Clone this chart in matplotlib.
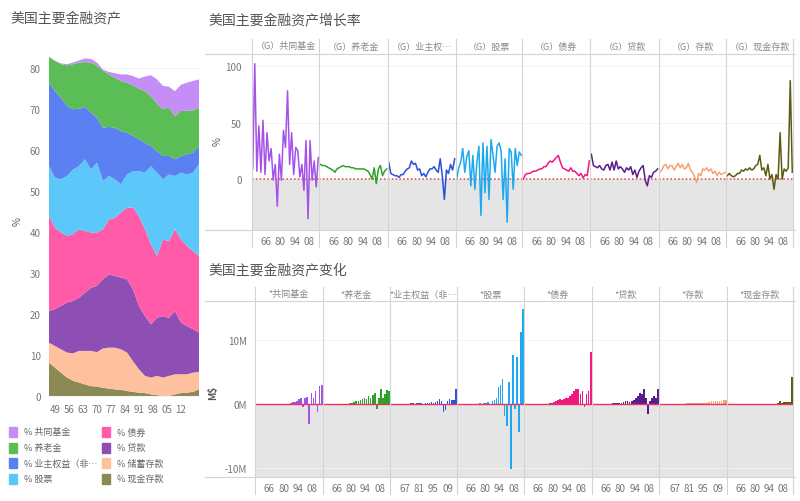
import numpy as np
import matplotlib.pyplot as plt
from matplotlib.lines import Line2D
from matplotlib.patches import Rectangle

plt.rcParams['font.family'] = ['Noto Sans CJK SC', 'DejaVu Sans']

W, H = 800, 502

# ---- left: share of financial assets (%) ----
share_years = [1946, 1949, 1952, 1955, 1958, 1961, 1964, 1967, 1970, 1973, 1976, 1979, 1982,
               1985, 1988, 1991, 1994, 1997, 2000, 2003, 2006, 2009, 2012, 2015, 2018, 2021]
cash = [8.1, 6.9, 5.7, 4.5, 3.7, 3.3, 2.8, 2.4, 2.3, 2.0, 1.8, 1.6, 1.5,
        1.2, 1.0, 0.8, 0.7, 0.4, 0.2, 0.0, 0.0, 0.4, 0.7, 0.8, 1.0, 1.6]
savings = [4.9, 5.3, 5.7, 6.1, 6.7, 7.7, 8.2, 8.6, 8.4, 9.6, 10.0, 10.2, 9.9,
           9.4, 7.5, 5.7, 4.2, 4.1, 4.7, 4.5, 4.9, 4.9, 4.6, 4.5, 4.7, 4.3]
loans = [7.7, 9.0, 10.6, 12.2, 12.8, 13.0, 14.2, 15.4, 16.2, 16.9, 17.9, 17.5, 17.5,
         17.9, 17.5, 15.5, 14.6, 13.0, 14.2, 15.0, 14.2, 15.4, 12.6, 11.8, 10.6, 9.6]
bonds = [23.2, 19.9, 17.9, 16.3, 16.3, 16.7, 15.1, 13.5, 13.0, 12.2, 13.4, 14.2, 15.9,
         17.5, 20.0, 21.9, 21.2, 19.5, 15.1, 18.7, 18.7, 20.0, 20.3, 19.5, 19.1, 18.7]
stocks = [12.2, 12.2, 13.0, 14.6, 15.8, 15.4, 17.5, 15.4, 17.1, 11.8, 10.6, 9.4, 6.9,
          8.1, 8.9, 11.0, 13.8, 19.1, 20.3, 14.7, 16.3, 13.0, 16.3, 17.5, 19.1, 22.4]
equity = [20.4, 21.1, 19.9, 17.1, 14.7, 14.0, 12.8, 13.9, 10.9, 13.0, 12.0, 12.6, 13.0,
          10.2, 8.6, 7.8, 7.3, 4.9, 5.3, 5.7, 4.5, 4.1, 4.1, 4.9, 4.9, 4.4]
pension = [6.3, 7.4, 8.2, 9.9, 11.0, 11.3, 10.9, 12.2, 12.7, 13.9, 12.8, 12.2, 12.2,
           12.2, 12.3, 12.3, 12.6, 12.2, 11.6, 11.4, 11.8, 10.5, 11.0, 10.6, 10.3, 9.4]
mutual = [0.0, 0.0, 0.2, 0.3, 0.4, 0.5, 0.9, 0.9, 0.8, 0.3, 0.6, 1.1, 1.6,
          2.0, 2.3, 2.5, 3.6, 5.1, 5.9, 5.7, 5.1, 6.1, 6.4, 6.9, 7.2, 6.9]

share_ticks = [1949, 1956, 1963, 1970, 1977, 1984, 1991, 1998, 2005, 2012]
share_ticklabels = ['49', '56', '63', '70', '77', '84', '91', '98', '05', '12']

# ---- right top: growth rate (%) ----
growth_years = np.arange(1953, 2018, 2)
g_mutual = [9, 102, 7, 47, 6, 52, 4, 41, 16, 27, -1, 13, -24, 22, -1, 43, 28, 78, 13, 41,
            4, 28, 25, 2, 13, -10, 34, -35, 34, -1, 16, -7, 19]
g_pension = [13, 12, 12, 11, 10, 9, 8, 6, 9, 10, 11, 12, 11, 11, 11, 10, 10, 9, 9, 9,
             9, 9, 8, 7, 4, 0, 10, -4, 9, 12, 3, 7, 9]
g_equity = [15, 5, 4, 3, 3, 1.5, 4, 4, 7, 9, 10, 16, 13, 14, 8, 9, 3, 5, 2, 6,
            9, 9, 11, 8, 6, 18, 3, -18, 8, 5, 13, 8, 18]
g_stocks = [0, 10, 15, 27, 6, 20, 25, -6, 21, -9, 15, 29, -32, 32, -12, 29, -18, 35, 21, 6,
            29, 32, 25, -18, 18, -38, 27, 24, -9, 27, 12, 24, 21]
g_bonds = [0, 4, 5, 5, 6, 7, 7, 8, 9, 9, 11, 11, 14, 16, 15, 17, 19, 21, 15, 10,
           9, 8, 7, 10, 7, 7, 5, 3, 5, 1, 4, 3, 16]
g_loans = [22, 12, 11, 10, 12, 9, 8, 12, 13, 8, 15, 8, 16, 9, 11, 9, 6, 10, 8, 11,
           4, 8, 1.5, 7, 10, 12, -1, -6, 3, 1.5, 6, 7, 9]
g_savings = [6, 8, 12, 13, 9, 12, 12, 8, 11, 14, 10, 13, 9, 10, 14, 8, 6, 2, -3, 5,
             3, 9, 8, 10, 7, 9, 5, 7, 3, 6, 4, 5, 6]
g_cash = [3, 5, 3, 2, 3, 5, 5, 8, 7, 9, 8, 10, 8, 9, 12, 13, 21, 8, 10, 3,
          13, 0, 4, -9, 4, 0, 41, 0, 9, 7, 10, 87, 6]

# ---- right bottom: change (M$, millions of millions) ----
c_mutual = [0.01, 0.01, 0.01, 0.01, 0.01, 0.02, 0.02, 0.03, 0.02, 0.02, 0.03, 0.03, 0.04, 0.04, 0.05,
            0.06, 0.02, 0.1, 0.25, 0.35, 0.5, 0.8, 1.0, -0.5, 1.0, 1.1, -3.1, 1.8, 0.9, 2.1,
            -1.3, 2.8, 2.9]
c_pension = [0.02, 0.02, 0.03, 0.03, 0.03, 0.04, 0.04, 0.05, 0.05, 0.06, 0.06, 0.07, 0.08, 0.1, 0.2,
             0.3, 0.4, 0.5, 0.6, 0.8, 0.9, 0.8, 1.2, 1.0, 1.4, 1.8, -0.8, 0.9, 2.4, 1.0,
             1.6, 2.2, 2.1]
c_equity = [0.02, 0.02, 0.02, 0.03, 0.02, 0.03, 0.03, 0.04, 0.03, 0.04, 0.1, 0.15, 0.05, 0.1, 0.15,
            0.1, 0.05, 0.1, 0.15, 0.2, 0.25, 0.15, 0.3, 0.4, 0.8, 0.4, -1.3, -1.0, 0.5, 0.8,
            0.6, 0.7, 2.3]
c_stocks = [0.01, 0.01, 0.02, 0.02, 0.01, 0.03, 0.02, 0.03, 0.02, 0.05, -0.1, 0.1, -0.15, 0.1, 0.2,
            0.3, -0.2, 0.5, 0.6, 1.0, 2.6, 2.9, 3.9, -1.8, -3.4, 3.4, -10.2, 7.6, -0.8, 7.3,
            -4.4, 11.2, 14.8]
c_bonds = [0.02, 0.02, 0.02, 0.03, 0.03, 0.03, 0.04, 0.04, 0.05, 0.05, 0.06, 0.08, 0.1, 0.2, 0.3,
           0.5, 0.7, 0.8, 0.7, 0.8, 0.9, 1.0, 1.2, 1.6, 2.1, 2.3, 2.4, 1.6, 2.1, -0.5,
           1.6, 2.0, 8.1]
c_loans = [0.02, 0.02, 0.03, 0.03, 0.03, 0.04, 0.04, 0.05, 0.05, 0.06, 0.1, 0.15, 0.2, 0.15, 0.2,
           0.3, 0.5, 0.4, 0.3, 0.5, 0.7, 0.9, 1.3, 1.8, 1.6, 2.3, 0.9, -1.6, 0.4, 0.9,
           1.3, 0.9, 2.3]
c_savings = [0.02, 0.02, 0.02, 0.02, 0.03, 0.03, 0.03, 0.04, 0.04, 0.06, 0.07, 0.08, 0.08, 0.09, 0.1,
             0.1, 0.12, 0.1, 0.15, 0.12, 0.15, 0.18, 0.15, 0.2, 0.35, 0.4, 0.45, 0.4, 0.5, 0.5,
             0.55, 0.6, 0.6]
c_cash = [0.01, 0.01, 0.01, 0.01, 0.01, 0.01, 0.01, 0.02, 0.02, 0.02, 0.02, 0.02, 0.03, 0.03, 0.03,
          0.03, 0.04, 0.04, 0.03, 0.05, 0.05, 0.04, 0.06, 0.05, 0.08, 0.1, 0.5, 0.2, 0.3, 0.3,
          0.3, 0.3, 4.2]

legend_labels = ['% 共同基金', '% 养老金', '% 业主权益（非…', '% 股票',
                 '% 债券', '% 贷款', '% 储蓄存款', '% 现金存款']
growth_heads = ['（G）共同基金', '（G）养老金', '（G）业主权…', '（G）股票',
                '（G）债券', '（G）贷款', '（G）存款', '（G）现金存款']
change_heads = ['*共同基金', '*养老金', '*业主权益（非…', '*股票',
                '*债券', '*贷款', '*存款', '*现金存款']
growth_data = [g_mutual, g_pension, g_equity, g_stocks, g_bonds, g_loans, g_savings, g_cash]
change_data = [c_mutual, c_pension, c_equity, c_stocks, c_bonds, c_loans, c_savings, c_cash]
change_ticks = [[1966, 1980, 1994, 2008]] * 8
change_ticks[2] = [1967, 1981, 1995, 2009]
change_ticks[6] = [1967, 1981, 1995, 2009]

# order: mutual, pension, equity, stocks, bonds, loans, savings, cash
area_colors = ['#c48ef6', '#5bbd55', '#5b80f1', '#5cc8fa', '#ff5ba8', '#8e4fb5', '#ffc19d', '#8b8a55']
line_colors = ['#a452e8', '#2ea12a', '#2b50dc', '#1ea8f0', '#f0177e', '#5a1e8c', '#f7a273', '#5c5b14']

TXT = '#777777'
SEP = '#d4d4d4'


def box(x0, y0, x1, y1):
    return [x0 / W, 1 - y1 / H, (x1 - x0) / W, (y1 - y0) / H]


def hline(y, x0, x1):
    fig.add_artist(Line2D([x0 / W, x1 / W], [1 - y / H, 1 - y / H], color=SEP, lw=0.8,
                          transform=fig.transFigure))


def vline(x, y0, y1):
    fig.add_artist(Line2D([x / W, x / W], [1 - y0 / H, 1 - y1 / H], color=SEP, lw=0.8,
                          transform=fig.transFigure))


def clean(ax):
    for s in ax.spines.values():
        s.set_visible(False)
    ax.tick_params(length=0, labelsize=7, labelcolor=TXT)


fig = plt.figure(figsize=(8, 5.02), dpi=100)

# ---------------- left stacked area ----------------
ax = fig.add_axes(box(49, 57, 199, 399))
ax.stackplot(share_years, cash, savings, loans, bonds, stocks, equity, pension, mutual,
             colors=area_colors[::-1], linewidth=0, zorder=2)
ax.set_xlim(1946, 2021)
ax.set_ylim(-0.5, 83)
ax.set_yticks(range(0, 81, 10))
ax.set_xticks(share_ticks)
ax.set_xticklabels(share_ticklabels)
ax.grid(axis='y', color='#f0f0f0', lw=0.6, zorder=0)
clean(ax)
ax.tick_params(axis='y', pad=6)
ax.tick_params(axis='x', pad=4)

fig.text(10 / W, 1 - 18 / H, '美国主要金融资产', fontsize=10, color='#555555', va='center')
fig.text(18 / W, 1 - 222 / H, '%', fontsize=7, color='#555555', rotation=90, va='center', ha='center')

# legend
for i, lab in enumerate(legend_labels):
    col, row = divmod(i, 4)
    x = 9 + col * 93
    y = 433 + row * 15.5
    fig.add_artist(Rectangle((x / W, 1 - (y + 5) / H), 8 / W, 10 / H, color=area_colors[i],
                             transform=fig.transFigure))
    fig.text((x + 15) / W, 1 - y / H, lab, fontsize=6.5, color='#666666', va='center')

# ---------------- right top: growth ----------------
fig.text(208 / W, 1 - 20 / H, '美国主要金融资产增长率', fontsize=10, color='#555555', va='center')
gx = [251.7, 319.3, 387.7, 455.7, 522.3, 590.3, 658.7, 726.3, 793.3]
for i in range(8):
    ax = fig.add_axes(box(gx[i], 55, gx[i + 1], 231))
    ax.axhspan(-45, 0, color='#e5e5e5', lw=0, zorder=0)
    for gy in (50, 100):
        ax.axhline(gy, color='#f2f2f2', lw=0.6, zorder=0)
    ax.axhline(0, color='#e0443a', ls=(0, (1, 1.5)), lw=1.1, zorder=1)
    ax.plot(growth_years, growth_data[i], color=line_colors[i], lw=1.1, zorder=2)
    ax.set_xlim(1952, 2018)
    ax.set_ylim(-45, 110.6)
    ax.set_xticks([1966, 1980, 1994, 2008])
    ax.set_xticklabels(['66', '80', '94', '08'])
    if i == 0:
        ax.set_yticks([0, 50, 100])
    else:
        ax.set_yticks([])
    clean(ax)
    ax.tick_params(axis='x', pad=4)
    ax.tick_params(axis='y', pad=7)
    fig.text((gx[i] + gx[i + 1]) / 2 / W, 1 - 47 / H, growth_heads[i], fontsize=6.5,
             color='#888888', ha='center', va='center')
for x in gx:
    vline(x, 40, 248)
hline(55, 205, 795)
hline(231, 205, 795)
fig.text(218 / W, 1 - 142 / H, '%', fontsize=7, color='#555555', rotation=90, va='center', ha='center')

# ---------------- right bottom: change ----------------
fig.text(208 / W, 1 - 270 / H, '美国主要金融资产变化', fontsize=10, color='#555555', va='center')
bx = [255, 322.7, 390, 456.7, 524, 591.7, 659.3, 726.7, 793.3]
for i in range(8):
    ax = fig.add_axes(box(bx[i], 302, bx[i + 1], 478))
    ax.axhspan(-11.4, 0, color='#e5e5e5', lw=0, zorder=0)
    for gy in (10, -10):
        ax.axhline(gy, color='#f2f2f2', lw=0.6, zorder=0)
    ax.bar(growth_years, change_data[i], width=1.7, color=line_colors[i], lw=0, zorder=2)
    ax.axhline(0, color='#e8335f', lw=1.0, zorder=3)
    ax.set_xlim(1952, 2018)
    ax.set_ylim(-11.4, 16.1)
    ax.set_xticks(change_ticks[i])
    ax.set_xticklabels([str(t)[2:] for t in change_ticks[i]])
    if i == 0:
        ax.set_yticks([-10, 0, 10])
        ax.set_yticklabels(['-10M', '0M', '10M'])
    else:
        ax.set_yticks([])
    clean(ax)
    ax.tick_params(axis='x', pad=4)
    ax.tick_params(axis='y', pad=6)
    fig.text((bx[i] + bx[i + 1]) / 2 / W, 1 - 295 / H, change_heads[i], fontsize=6.5,
             color='#888888', ha='center', va='center')
for x in bx:
    vline(x, 288, 495)
hline(302, 205, 795)
hline(478, 205, 795)
fig.text(213 / W, 1 - 393 / H, 'M$', fontsize=7, color='#555555', rotation=90, va='center',
         ha='center', fontweight='bold')

fig.savefig('out.png', dpi=100, facecolor='white')
